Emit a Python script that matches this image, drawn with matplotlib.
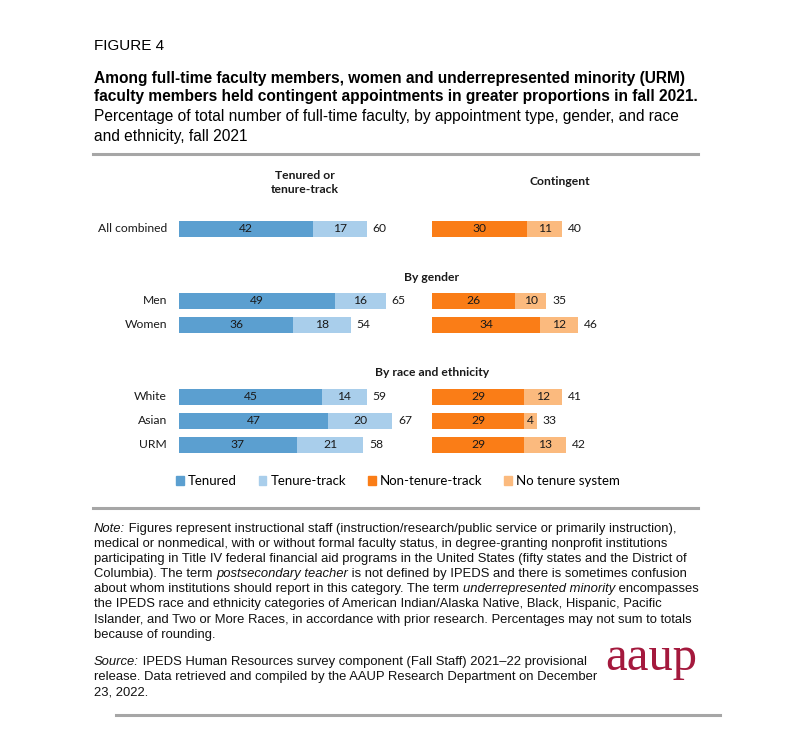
import matplotlib
matplotlib.use('Agg')
import matplotlib.pyplot as plt
from matplotlib.patches import Patch
from matplotlib.lines import Line2D

# data (percent of full-time faculty, fall 2021)
categories = ['All combined', 'Men', 'Women', 'White', 'Asian', 'URM']
tenured = [42, 49, 36, 45, 47, 37]
tenure_track = [17, 16, 18, 14, 20, 21]
tt_total = [60, 65, 54, 59, 67, 58]
non_tenure_track = [30, 26, 34, 29, 29, 29]
no_tenure_system = [11, 10, 12, 12, 4, 13]
cont_total = [40, 35, 46, 41, 33, 42]
series_names = ['Tenured', 'Tenure-track', 'Non-tenure-track', 'No tenure system']

# layout
W, H = 791, 756
ROWS = [0, 3, 4, 7, 8, 9]          # row slots, 24 px each
PX = 3.18                           # px per percentage point
CONT_OFF = (432 - 179) / PX         # where the contingent bars start
C_TEN, C_TT = '#5B9FD0', '#A9CEEB'
C_NTT, C_NTS = '#FA7D17', '#FBBA7E'
CHART_FONT = 'Lato'
TXT_FONT = 'Liberation Sans'
NOTE_SIZE = 9.35


def fx(x):
    return x / W


def fy(y):
    return 1 - y / H


fig = plt.figure(figsize=(W / 100, H / 100), dpi=100)
fig.patch.set_facecolor('white')
renderer = fig.canvas.get_renderer()


def text_w(s, **kw):
    # width of s incl. spaces, measured between two bars
    t = fig.text(0, 0, '|' + s + '|', **kw)
    w = t.get_window_extent(renderer).width
    t.remove()
    t = fig.text(0, 0, '||', **kw)
    w -= t.get_window_extent(renderer).width
    t.remove()
    return w


def rich_line(x, y, runs, **kw):
    # runs: list of (text, italic)
    for s, it in runs:
        style = 'italic' if it else 'normal'
        fig.text(fx(x), fy(y), s, style=style, va='center', **kw)
        x += text_w(s, style=style, **kw)


# ---- header text
fig.text(fx(94), fy(46), 'FIGURE 4', family=TXT_FONT, fontsize=11, va='center')
fig.text(fx(94), fy(78), 'Among full-time faculty members, women and underrepresented minority (URM)',
         family=TXT_FONT, fontsize=11.2, weight='bold', va='center')
fig.text(fx(94), fy(97), 'faculty members held contingent appointments in greater proportions in fall 2021.',
         family=TXT_FONT, fontsize=11.2, weight='bold', va='center')
fig.text(fx(94), fy(117), 'Percentage of total number of full-time faculty, by appointment type, gender, and race',
         family=TXT_FONT, fontsize=11.2, va='center')
fig.text(fx(94), fy(136), 'and ethnicity, fall 2021', family=TXT_FONT, fontsize=11.2, va='center')

for x0, x1, y in [(93, 698, 154), (93, 698, 508), (116, 720, 715)]:
    fig.add_artist(Line2D([fx(x0), fx(x1)], [fy(y), fy(y)], transform=fig.transFigure,
                          color='#A6A6A6', lw=2.2))

# ---- bars
ax = fig.add_axes([fx(179), fy(493), (700 - 179) / W, 336 / H])
ax.set_xlim(0, (700 - 179) / PX)
ax.set_ylim(11, -3)
ax.axis('off')

bh = 16 / 24
ax.barh(ROWS, tenured, height=bh, color=C_TEN)
ax.barh(ROWS, tenure_track, left=tenured, height=bh, color=C_TT)
ax.barh(ROWS, non_tenure_track, left=CONT_OFF, height=bh, color=C_NTT)
ntt_end = [CONT_OFF + v for v in non_tenure_track]
ax.barh(ROWS, no_tenure_system, left=ntt_end, height=bh, color=C_NTS)

lab_kw = dict(family=CHART_FONT, fontsize=8.7, va='center', color='#1a1a1a')
gap = 6 / PX
for i, y in enumerate(ROWS):
    ax.text(-12 / PX, y, categories[i], ha='right', **lab_kw)
    ax.text(tenured[i] / 2, y, str(tenured[i]), ha='center', **lab_kw)
    ax.text(tenured[i] + tenure_track[i] / 2, y, str(tenure_track[i]), ha='center', **lab_kw)
    ax.text(tenured[i] + tenure_track[i] + gap, y, str(tt_total[i]), ha='left', **lab_kw)
    ax.text(CONT_OFF + non_tenure_track[i] / 2, y, str(non_tenure_track[i]), ha='center', **lab_kw)
    ax.text(ntt_end[i] + no_tenure_system[i] / 2, y, str(no_tenure_system[i]), ha='center', **lab_kw)
    ax.text(ntt_end[i] + no_tenure_system[i] + gap, y, str(cont_total[i]), ha='left', **lab_kw)

hdr_kw = dict(family=CHART_FONT, fontsize=8.7, weight='bold', va='center', ha='center', color='#1a1a1a')
ax.text((305 - 179) / PX, -1.94, 'Tenured or\ntenure-track', linespacing=1.25, **hdr_kw)
ax.text((560 - 179) / PX, -1.96, 'Contingent', **hdr_kw)
ax.text(CONT_OFF, 2.04, 'By gender', **hdr_kw)
ax.text(CONT_OFF, 6.0, 'By race and ethnicity', **hdr_kw)

handles = [Patch(color=c) for c in (C_TEN, C_TT, C_NTT, C_NTS)]
fig.legend(handles, series_names, ncol=4, loc='center left', bbox_to_anchor=(fx(176), fy(481)),
           frameon=False, borderpad=0, borderaxespad=0, handlelength=0.6, handleheight=0.6,
           handletextpad=0.3, columnspacing=1.65,
           prop={'family': CHART_FONT, 'size': 9.5})

# ---- note and source
note = [
    [('Note:', True), (' Figures represent instructional staff (instruction/research/public service or primarily instruction),', False)],
    [('medical or nonmedical, with or without formal faculty status, in degree-granting nonprofit institutions', False)],
    [('participating in Title IV federal financial aid programs in the United States (fifty states and the District of', False)],
    [('Columbia). The term ', False), ('postsecondary teacher', True),
     (' is not defined by IPEDS and there is sometimes confusion', False)],
    [('about whom institutions should report in this category. The term ', False), ('underrepresented minority', True),
     (' encompasses', False)],
    [('the IPEDS race and ethnicity categories of American Indian/Alaska Native, Black, Hispanic, Pacific', False)],
    [('Islander, and Two or More Races, in accordance with prior research. Percentages may not sum to totals', False)],
    [('because of rounding.', False)],
]
source = [
    [('Source:', True), (' IPEDS Human Resources survey component (Fall Staff) 2021–22 provisional', False)],
    [('release. Data retrieved and compiled by the AAUP Research Department on December', False)],
    [('23, 2022.', False)],
]
note_kw = dict(family=TXT_FONT, fontsize=NOTE_SIZE, color='#111111')
for i, runs in enumerate(note):
    rich_line(94, 529 + 15.1 * i, runs, **note_kw)
for i, runs in enumerate(source):
    rich_line(94, 662 + 15.1 * i, runs, **note_kw)

fig.text(fx(605), fy(670), 'aaup', family='Liberation Serif', fontsize=35, color='#A4193D',
         va='baseline', ha='left')

fig.savefig('out.png', dpi=100, facecolor='white')
